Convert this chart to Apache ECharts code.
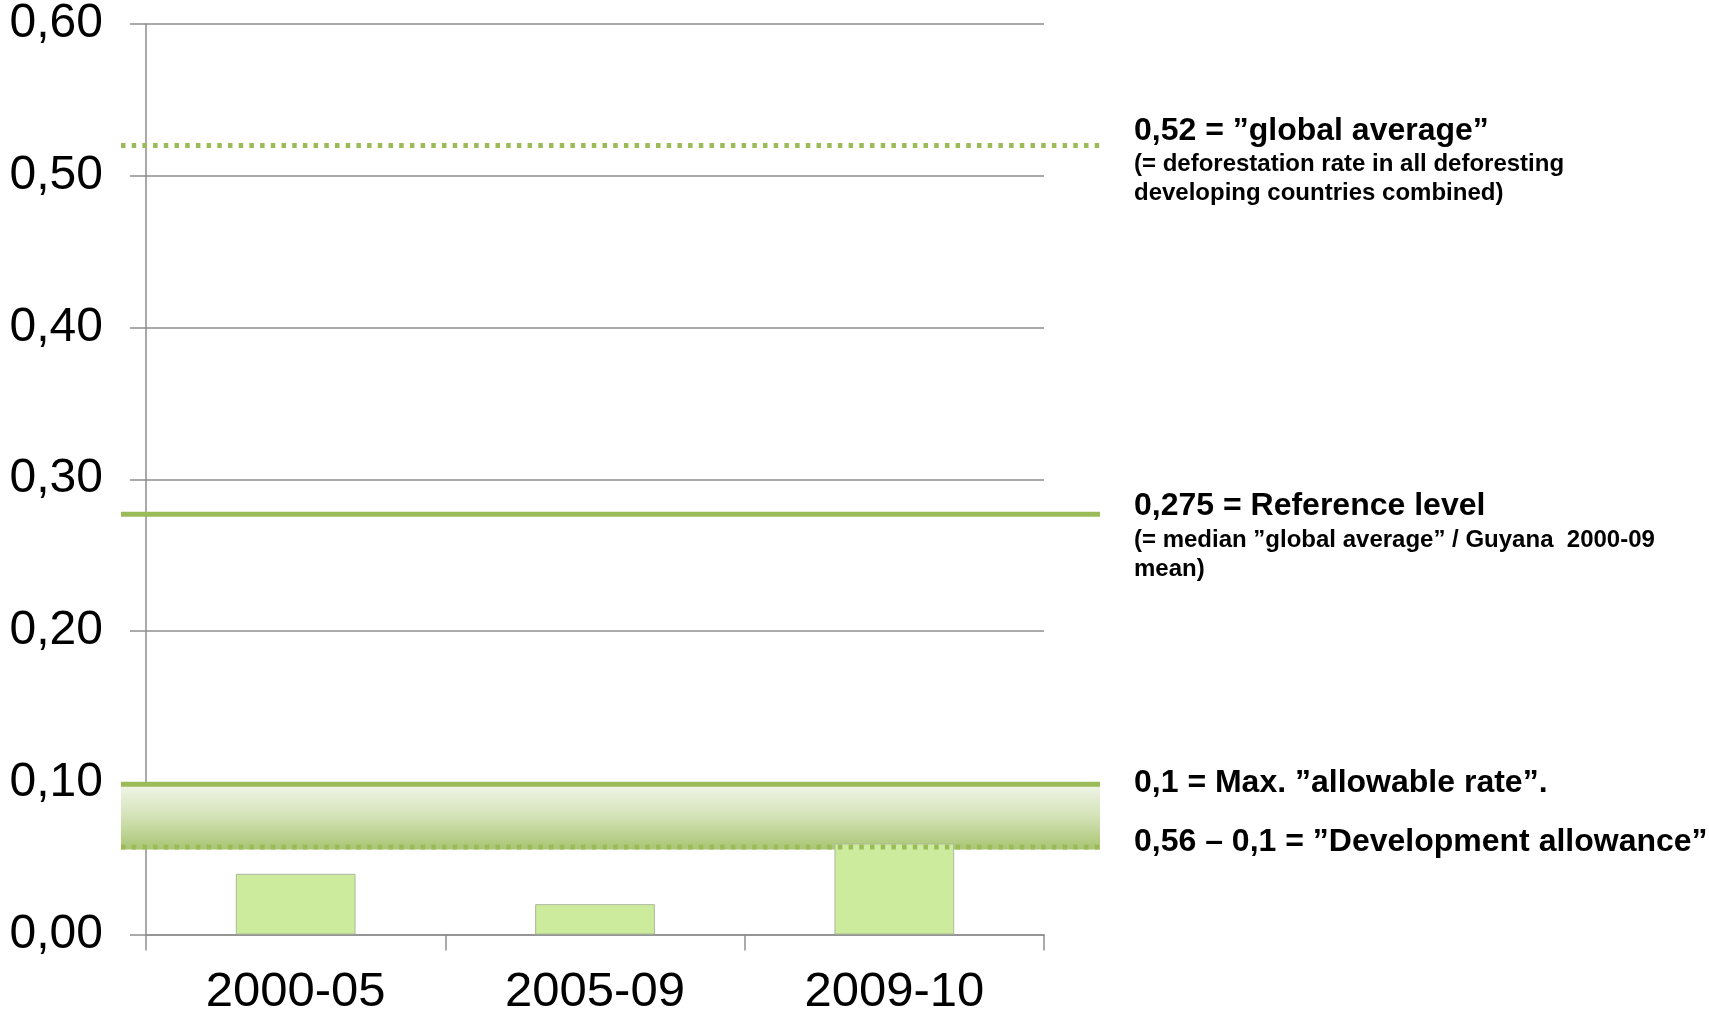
<!DOCTYPE html>
<html>
<head>
<meta charset="utf-8">
<script src="https://cdn.jsdelivr.net/npm/echarts@6/dist/echarts.min.js"></script>
<style>html,body{margin:0;padding:0;background:#fff}#c{width:1709px;height:1017px}</style>
</head>
<body>
<div id="c"></div>
<script>
// ---- data ----
const categories = ['2000-05', '2005-09', '2009-10'];
const barValues = [0.04, 0.02, 0.06];
const yTicks = [0, 0.1, 0.2, 0.3, 0.4, 0.5, 0.6];
const globalAverage = 0.52;
const referenceLevel = 0.277;
const maxAllowable = 0.099;
const devAllowanceLow = 0.0577;
const bandRange = [0.099, 0.056];
const labelLines = [
  ['0,52 = \u201dglobal average\u201d', '(= deforestation rate in all deforesting', 'developing countries combined)'],
  ['0,275 = Reference level', '(= median \u201dglobal average\u201d / Guyana  2000-09', 'mean)'],
  ['0,1 = Max. \u201dallowable rate\u201d.'],
  ['0,56 \u2013 0,1 = \u201dDevelopment allowance\u201d']
];

const green = '#9bbb59';
const grayAxis = '#8e8e8e';
const FONT = '"Liberation Sans", Arial, sans-serif';

const chart = echarts.init(document.getElementById('c'), null, {renderer: 'canvas'});

function fmt(v){ return v.toFixed(2).replace('.', ','); }

function hline(y, dashed, z){
  return {
    type: 'line', xAxisIndex: 1, yAxisIndex: 1, z: z,
    data: [[0, y], [1, y]], symbol: 'none', silent: true,
    lineStyle: {color: green, width: 5, type: dashed ? [4.5, 6.2] : 'solid', cap: 'butt'}
  };
}

const textEls = [];
function addText(x, y, str, size){
  textEls.push({type: 'text', left: x, top: y - size / 2, style: {text: str, font: 'bold ' + size + 'px ' + FONT, fill: '#000'}});
}
addText(1134, 131, labelLines[0][0], 32);
addText(1134, 164, labelLines[0][1], 24);
addText(1134, 193, labelLines[0][2], 24);
addText(1134, 506, labelLines[1][0], 32);
addText(1134, 540, labelLines[1][1], 24);
addText(1134, 569, labelLines[1][2], 24);
addText(1134, 783, labelLines[2][0], 32);
addText(1134, 842, labelLines[3][0], 32);

chart.setOption({
  animation: false,
  backgroundColor: '#fff',
  grid: [
    {left: 146, right: 665, top: 24, bottom: 82.5, containLabel: false},
    {left: 121, right: 609, top: 24, bottom: 82.5, containLabel: false}
  ],
  xAxis: [
    {
      type: 'category', gridIndex: 0, data: categories, boundaryGap: true,
      axisLine: {lineStyle: {color: grayAxis, width: 1.5}},
      axisTick: {show: true, length: 16, inside: false, interval: 0, alignWithLabel: false, lineStyle: {color: grayAxis, width: 1.5}},
      axisLabel: {color: '#000', fontSize: 49, fontFamily: FONT, margin: 33}
    },
    {type: 'value', gridIndex: 1, min: 0, max: 1, show: false}
  ],
  yAxis: [
    {
      type: 'value', gridIndex: 0, min: yTicks[0], max: yTicks[yTicks.length - 1], interval: 0.1,
      axisLine: {show: true, lineStyle: {color: grayAxis, width: 1.5}},
      axisTick: {show: true, length: 16, lineStyle: {color: grayAxis, width: 1.5}},
      splitLine: {show: true, lineStyle: {color: grayAxis, width: 1.5}},
      axisLabel: {color: '#000', fontSize: 48, fontFamily: FONT, margin: 43, formatter: fmt}
    },
    {type: 'value', gridIndex: 1, min: 0, max: 0.6, show: false}
  ],
  series: [
    {
      type: 'line', xAxisIndex: 1, yAxisIndex: 1, z: -1, data: [], symbol: 'none', silent: true,
      markArea: {
        silent: true,
        itemStyle: {
          color: {type: 'linear', x: 0, y: 0, x2: 0, y2: 1, colorStops: [
            {offset: 0, color: '#f1f5e9'},
            {offset: 0.5, color: '#d3e2b6'},
            {offset: 1, color: '#a9c572'}
          ]}
        },
        data: [[{yAxis: bandRange[0], xAxis: 0}, {yAxis: bandRange[1], xAxis: 1}]]
      }
    },
    {
      type: 'bar', xAxisIndex: 0, yAxisIndex: 0, data: barValues, barCategoryGap: '60%', z: 2,
      itemStyle: {color: '#cdeb9d', borderColor: '#aab89a', borderWidth: 1}
    },
    hline(globalAverage, true, 3),
    hline(referenceLevel, false, 3),
    hline(maxAllowable, false, 3),
    hline(devAllowanceLow, true, 3)
  ],
  graphic: textEls
});
</script>
</body>
</html>
